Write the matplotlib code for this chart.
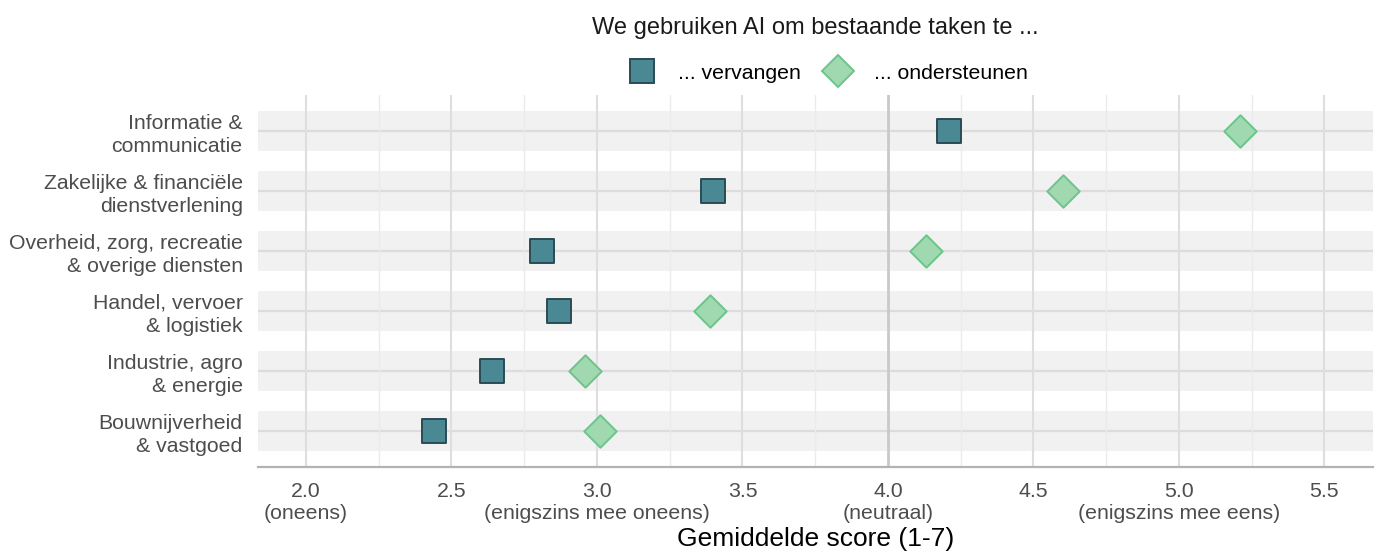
import matplotlib
matplotlib.use("Agg")
import matplotlib.pyplot as plt
from matplotlib.lines import Line2D
import numpy as np

plt.rcParams['font.family'] = ['Liberation Sans', 'DejaVu Sans']

categories = [
    "Informatie &\ncommunicatie",
    "Zakelijke & financiële\ndienstverlening",
    "Overheid, zorg, recreatie\n& overige diensten",
    "Handel, vervoer\n& logistiek",
    "Industrie, agro\n& energie",
    "Bouwnijverheid\n& vastgoed",
]
vervangen = [4.21, 3.40, 2.81, 2.87, 2.64, 2.44]
ondersteunen = [5.21, 4.60, 4.13, 3.39, 2.96, 3.01]

xticks = [2.0, 2.5, 3.0, 3.5, 4.0, 4.5, 5.0, 5.5]
xticklabels = ["2.0\n(oneens)", "2.5", "3.0\n(enigszins mee oneens)", "3.5",
               "4.0\n(neutraal)", "4.5", "5.0\n(enigszins mee eens)", "5.5"]
minor_ticks = [2.25, 2.75, 3.25, 3.75, 4.25, 4.75, 5.25]

title = "We gebruiken AI om bestaande taken te ..."
xlabel = "Gemiddelde score (1-7)"
series_names = ["... vervangen", "... ondersteunen"]

sq_fill, sq_edge = "#4a8994", "#2a4c54"
di_fill, di_edge = "#a0d9b0", "#6cc48a"

fig = plt.figure(figsize=(13.8, 5.55), dpi=100)
ax = fig.add_axes([258/1380, 1 - 467/555, (1373-258)/1380, (467-95)/555])

n = len(categories)
ypos = np.arange(n, 0, -1)

for y in ypos:
    ax.axhspan(y - 1/3, y + 1/3, color="#f1f1f1", zorder=0, lw=0)
    ax.axhline(y, color="#dcdcdc", lw=1.6, zorder=1)
for x in minor_ticks:
    ax.axvline(x, color="#ebebeb", lw=1.0, zorder=1)
for x in xticks:
    if x == 4.0:
        ax.axvline(x, color="#c9c9c9", lw=2.0, zorder=1.5)
    else:
        ax.axvline(x, color="#dedede", lw=1.5, zorder=1)

ax.scatter(vervangen, ypos, marker="s", s=16.8**2, facecolor=sq_fill,
           edgecolor=sq_edge, linewidth=1.4, zorder=3)
ax.scatter(ondersteunen, ypos, marker="D", s=16.5**2, facecolor=di_fill,
           edgecolor=di_edge, linewidth=1.4, zorder=3)

ax.set_xlim(1.835, 5.667)
ax.set_ylim(0.4, n + 0.6)

ax.set_yticks(ypos)
ax.set_yticklabels(categories, fontsize=15.3, color="#4d4d4d", linespacing=1.25)
ax.set_xticks(xticks)
ax.set_xticklabels(xticklabels, fontsize=15.3, color="#4d4d4d", linespacing=1.22)
ax.tick_params(axis="y", length=0, pad=11)
ax.tick_params(axis="x", length=0, pad=10.5)

for s in ["top", "right", "left"]:
    ax.spines[s].set_visible(False)
ax.spines["bottom"].set_color("#b3b3b3")
ax.spines["bottom"].set_linewidth(1.6)
ax.spines["bottom"].set_zorder(2)

ax.set_xlabel(xlabel, fontsize=19, color="black", labelpad=3)

ax.text(0.5, 1.18, title, transform=ax.transAxes, ha="center", va="center",
        fontsize=17, color="#1a1a1a")

handles = [
    Line2D([], [], marker="s", linestyle="none", markersize=16.8,
           markerfacecolor=sq_fill, markeredgecolor=sq_edge, markeredgewidth=1.4),
    Line2D([], [], marker="D", linestyle="none", markersize=16.5,
           markerfacecolor=di_fill, markeredgecolor=di_edge, markeredgewidth=1.4),
]
ax.legend(handles, series_names, loc="center", bbox_to_anchor=(0.5126, 1.059),
          ncol=2, frameon=False, fontsize=15.3, handlelength=1.0,
          handletextpad=1.2, columnspacing=1.25, borderaxespad=0)

fig.savefig("out.png", dpi=100)
